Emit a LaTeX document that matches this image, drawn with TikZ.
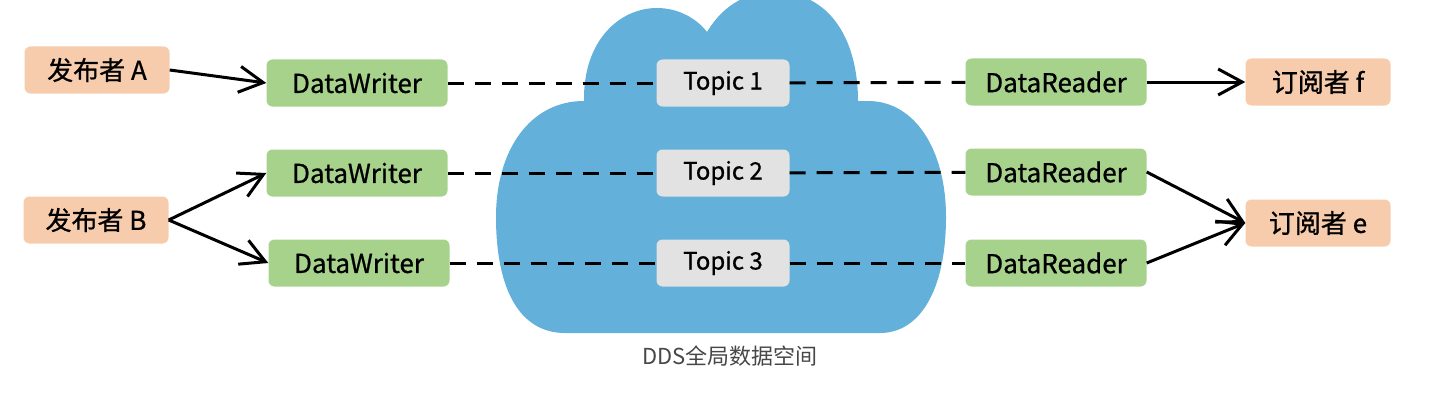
\documentclass[tikz,border=0pt]{standalone}
\usepackage{fontspec}
\setmainfont{Noto Sans CJK SC}
\newfontfamily\boxfont{Noto Sans CJK SC}[FakeBold=0.8]
\usetikzlibrary{arrows.meta}
\definecolor{pubc}{RGB}{247,204,172}
\definecolor{rwc}{RGB}{166,210,140}
\definecolor{topc}{RGB}{226,226,226}
\definecolor{cloudc}{RGB}{99,176,218}

\begin{document}
\begin{tikzpicture}[x=1pt,y=-1pt,
        box/.style={rounded corners=6pt,minimum height=47pt,inner sep=0pt,
            font=\boxfont\fontsize{26}{30}\selectfont},
        pub/.style={box,fill=pubc,minimum width=145pt},
        rw/.style={box,fill=rwc,minimum width=181pt},
        topic/.style={box,fill=topc,minimum width=133pt,
            font=\boxfont\fontsize{24}{28}\selectfont},
        link/.style={line width=3pt,dash pattern=on 16pt off 11pt},
        feed/.style={line width=3pt,-{Straight Barb[length=24pt,width=26pt,line width=3pt]}}
    ]
    \useasboundingbox (0,0) rectangle (1456,404);
    \fill[cloudc] (565,333)
        .. controls (520,333) and (496,290) .. (496,217)
        .. controls (496,150) and (530,101) .. (584,101)
        .. controls (583,40) and (620,8) .. (657,8)
        .. controls (680,8) and (698,20) .. (707,32)
        .. controls (725,2) and (750,-8) .. (775,-8)
        .. controls (830,-8) and (858,40) .. (858,101)
        -- (868,101)
        .. controls (915,101) and (946,150) .. (946,217)
        .. controls (946,290) and (920,333) .. (880,333)
        -- cycle;
    \node[font=\fontsize{22}{26}\selectfont,text=black!72] (dds) at (730,356) {DDS全局数据空间};

    \node[pub] (pa) at (97,70) {发布者 A};
    \node[pub] (pb) at (96,220) {发布者 B};
    \node[pub] (sf) at (1318,82) {订阅者 f};
    \node[pub] (se) at (1318,223) {订阅者 e};

    \node[rw] (w1) at (357,83) {DataWriter};
    \node[rw] (w2) at (357,173) {DataWriter};
    \node[rw] (w3) at (359,263) {DataWriter};
    \node[rw] (r1) at (1056,82) {DataReader};
    \node[rw] (r2) at (1056,172) {DataReader};
    \node[rw] (r3) at (1056,263) {DataReader};

    \node[topic] (t1) at (723,83) {Topic 1};
    \node[topic] (t2) at (723,173) {Topic 2};
    \node[topic] (t3) at (723,263) {Topic 3};

    \foreach \i in {1,2,3} {
        \draw[link] (w\i) -- (t\i);
        \draw[link] (t\i) -- (r\i);
    }

    \draw[feed] (pa.east) -- (w1.west);
    \draw[feed] (pb.east) -- (w2.west);
    \draw[feed] (pb.east) -- (w3.west);
    \draw[feed] (r1.east) -- (sf.west);
    \draw[feed] (r2.east) -- (se.west);
    \draw[feed] (r3.east) -- (se.west);
\end{tikzpicture}
\end{document}
